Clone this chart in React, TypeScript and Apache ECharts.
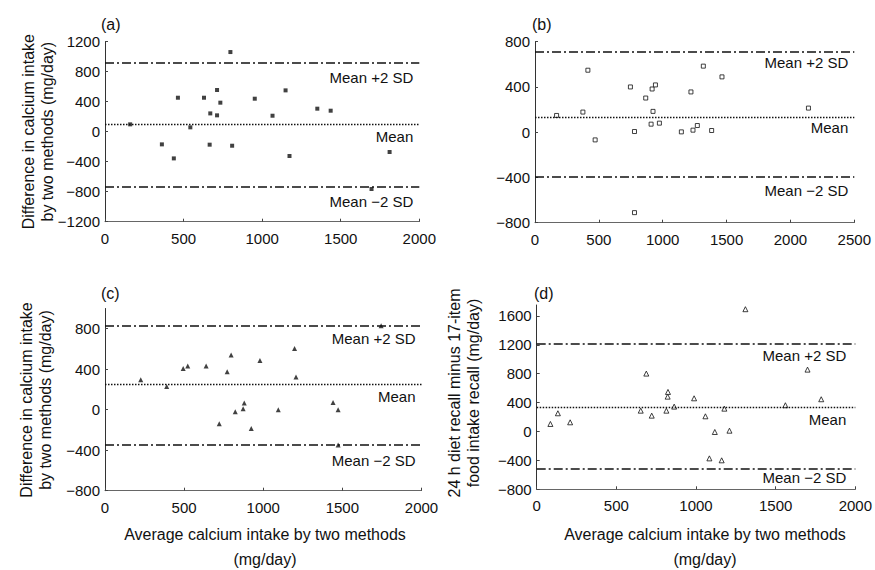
import { useEffect, useRef } from "react";
import * as echarts from "echarts";

const FONT = '"Liberation Sans", Arial, Helvetica, sans-serif';

// Panel (a): filled squares
const pointsA: [number, number][] = [
  [160, 98], [362, -169], [438, -356], [464, 453], [543, 58], [630, 453],
  [666, -173], [670, 244], [713, 556], [713, 218], [734, 387], [798, 1062],
  [809, -187], [953, 440], [1066, 213], [1149, 551], [1174, -324], [1351, 307],
  [1436, 280], [1696, -764], [1811, -271],
];
// Panel (b): open squares
const pointsB: [number, number][] = [
  [169, 148], [375, 178], [414, 548], [471, -68], [747, 400], [779, 6],
  [779, -711], [867, 302], [909, 71], [917, 382], [924, 184], [943, 418],
  [974, 80], [1146, 3], [1221, 356], [1237, 18], [1271, 59], [1318, 584],
  [1383, 15], [1464, 489], [2141, 213],
];
// Panel (c): filled triangles
const pointsC: [number, number][] = [
  [226, 296], [390, 230], [494, 408], [523, 431], [639, 431], [722, -138],
  [772, 375], [797, 540], [823, -20], [873, 10], [880, 66], [924, -185],
  [979, 487], [1095, 0], [1198, 606], [1207, 323], [1441, 72], [1473, 0],
  [1473, -349], [1745, 830],
];
// Panel (d): open triangles
const pointsD: [number, number][] = [
  [86, 104], [133, 252], [210, 127], [653, 288], [688, 801], [722, 219],
  [814, 288], [822, 482], [824, 547], [863, 344], [988, 459], [1059, 210],
  [1084, -372], [1118, -7], [1161, -399], [1178, 316], [1210, 11],
  [1310, 1692], [1561, 363], [1700, 856], [1786, 446],
];

// [mean + 2 SD, mean, mean - 2 SD]
const limitsA = [920, 98, -733];
const limitsB = [713, 133, -398];
const limitsC = [833, 252, -350];
const limitsD = [1220, 330, -515];

const lineLabels = ["Mean +2 SD", "Mean", "Mean \u22122 SD"];

const xTicks2000 = [0, 500, 1000, 1500, 2000];
const xTicks2500 = [0, 500, 1000, 1500, 2000, 2500];
const yTicksA = [-1200, -800, -400, 0, 400, 800, 1200];
const yTicksB = [-800, -400, 0, 400, 800];
const yTicksC = [-800, -400, 0, 400, 800];
const yTicksD = [-800, -400, 0, 400, 800, 1200, 1600];

const panelLetters = ["(a)", "(b)", "(c)", "(d)"];
const yTitleLeft = "Difference in calcium intake\nby two methods (mg/day)";
const yTitleD = "24 h diet recall minus 17-item\nfood intake recall (mg/day)";
const xTitle = "Average calcium intake by two methods\n(mg/day)";

const minus = (v: number) => String(v).replace("-", "\u2212");

export default function App() {
  const ref = useRef<HTMLDivElement>(null);

  useEffect(() => {
    if (!ref.current) return;
    const chart = echarts.init(ref.current, null, { renderer: "svg" });

    const panels = [
      {
        points: pointsA, limits: limitsA, xTicks: xTicks2000, yTicks: yTicksA,
        yMin: -1200, yMax: 1200, symbol: "rect", hollow: false, size: 4,
        grid: { left: 105, top: 41.7, width: 314.3, height: 180 },
        dist: [7, 4.5, 7.5], endGap: 6,
      },
      {
        points: pointsB, limits: limitsB, xTicks: xTicks2500, yTicks: yTicksB,
        yMin: -800, yMax: 800, symbol: "rect", hollow: true, size: 4,
        grid: { left: 535, top: 41.7, width: 319.3, height: 181 },
        dist: [3, 3, 5.5], endGap: 6,
      },
      {
        points: pointsC, limits: limitsC, xTicks: xTicks2000, yTicks: yTicksC,
        yMin: -800, yMax: 1000, symbol: "triangle", hollow: false, size: 5,
        grid: { left: 105, top: 308.5, width: 316.5, height: 182.2 },
        dist: [5.5, 4.5, 7.5], endGap: 6,
      },
      {
        points: pointsD, limits: limitsD, xTicks: xTicks2000, yTicks: yTicksD,
        yMin: -800, yMax: 1750, symbol: "triangle", hollow: true, size: 5,
        grid: { left: 536.7, top: 305, width: 320.3, height: 184.3 },
        dist: [4.5, 4, 1.5], endGap: 9,
      },
    ];

    const dashDot = [9, 3, 2, 3];
    const dotted = [1.5, 1.5];

    const option: any = {
      animation: false,
      backgroundColor: "#ffffff",
      grid: panels.map((p) => ({ ...p.grid, containLabel: false })),
      xAxis: panels.map((p, i) => ({
        gridIndex: i,
        type: "value",
        min: 0,
        max: p.xTicks[p.xTicks.length - 1],
        interval: 500,
        axisLine: { show: true, onZero: false, lineStyle: { color: "#666", width: 1 } },
        axisTick: { show: true, inside: true, length: 3, lineStyle: { color: "#444" } },
        axisLabel: {
          color: "#111", fontSize: 15, fontFamily: FONT, margin: 9,
          customValues: p.xTicks, formatter: (v: number) => minus(v),
        },
        splitLine: { show: false },
      })),
      yAxis: panels.map((p, i) => ({
        gridIndex: i,
        type: "value",
        min: p.yMin,
        max: p.yMax,
        interval: 400,
        axisLine: { show: true, onZero: false, lineStyle: { color: "#333", width: 1 } },
        axisTick: {
          show: true, inside: true, length: 3, lineStyle: { color: "#444" },
          customValues: p.yTicks,
        },
        axisLabel: {
          color: "#111", fontSize: 15, fontFamily: FONT, margin: 5,
          customValues: p.yTicks,
          formatter: (v: number) => (v % 400 === 0 ? minus(v) : ""),
        },
        splitLine: { show: false },
      })),
      series: panels.map((p, i) => ({
        type: "scatter",
        xAxisIndex: i,
        yAxisIndex: i,
        data: p.points,
        symbol: p.symbol,
        symbolSize: p.size,
        itemStyle: p.hollow
          ? { color: "#ffffff", borderColor: "#111", borderWidth: 1 }
          : { color: "#111" },
        markLine: {
          silent: true,
          symbol: ["none", "none"],
          data: p.limits.map((v, k) => ({
            yAxis: v,
            lineStyle: {
              color: "#111",
              width: k === 1 ? 1.4 : 1.6,
              type: k === 1 ? dotted : dashDot,
            },
            label: {
              show: true,
              position: "insideEndBottom",
              distance: [p.endGap, p.dist[k]],
              formatter: lineLabels[k],
              color: "#111",
              fontSize: 15,
              fontFamily: FONT,
            },
          })),
        },
      })),
      graphic: [
        ...panelLetters.map((t, i) => ({
          type: "text",
          x: [101, 532, 101, 534][i],
          y: [24, 24, 293, 293][i],
          style: {
            text: t, font: `16px ${FONT}`, fill: "#111",
            align: "left", verticalAlign: "middle",
            textAlign: "left", textVerticalAlign: "middle",
          },
        })),
        ...[
          { t: yTitleLeft, x: 37.5, y: 131.7 },
          { t: yTitleLeft, x: 36, y: 400 },
          { t: yTitleD, x: 464, y: 393 },
        ].map((o) => ({
          type: "text",
          x: o.x,
          y: o.y,
          rotation: Math.PI / 2,
          style: {
            text: o.t, font: `16px ${FONT}`, fill: "#111", lineHeight: 19,
            align: "center", verticalAlign: "middle",
            textAlign: "center", textVerticalAlign: "middle",
          },
        })),
        ...[
          { x: 265, y: 547 },
          { x: 705, y: 547 },
        ].map((o) => ({
          type: "text",
          x: o.x,
          y: o.y,
          style: {
            text: xTitle, font: `16px ${FONT}`, fill: "#111", lineHeight: 25,
            align: "center", verticalAlign: "middle",
            textAlign: "center", textVerticalAlign: "middle",
          },
        })),
      ],
    };

    chart.setOption(option);
    return () => chart.dispose();
  }, []);

  return (
    <div
      ref={ref}
      style={{ position: "fixed", left: 0, top: 0, width: 875, height: 570, background: "#fff" }}
    />
  );
}
